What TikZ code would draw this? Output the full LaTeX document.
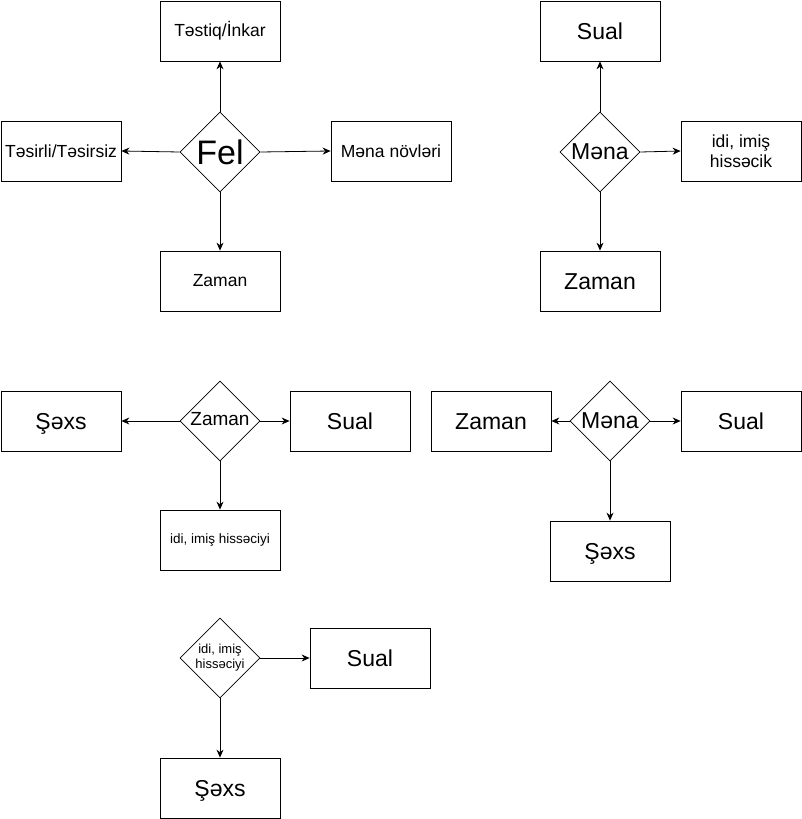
\documentclass[tikz,border=0pt]{standalone}
\usepackage{fontspec}
\setmainfont{Liberation Sans}
\usepackage{tikz}
\usetikzlibrary{shapes.geometric, arrows.meta, positioning}

\newcommand{\fsz}[1]{\fontsize{#1}{1.15\dimexpr#1\relax}\selectfont}

\begin{document}
\begin{tikzpicture}[x=1pt,y=-1pt,line width=0.8pt,
  box/.style={draw, minimum width=120pt, minimum height=60pt, inner sep=0pt, align=center},
  cond/.style={draw, diamond, minimum width=80pt, minimum height=80pt, inner sep=0pt, line width=0.6pt},
  conn/.style={-{Stealth[length=8pt,width=7pt]}},
  big/.style={font=\fsz{23pt}, text height=17pt, text depth=0pt},
  mid/.style={font=\fsz{17.5pt}},
  small/.style={font=\fsz{13.5pt}}]
\useasboundingbox (0,0) rectangle (802,819);

% Fel
\node[cond, label={[font=\fsz{34pt}]center:Fel}] (fel) at (220,152) {};
\node[box, mid] (tesdiq) at (220,31) {Təstiq/İnkar};
\node[box, mid] (tesirli) at (61,151) {Təsirli/Təsirsiz};
\node[box, mid] (novler) at (391,151) {Məna növləri};
\node[box, mid] (zaman1) at (220,281) {Zaman};
\draw[conn] (fel.north) -- (tesdiq.south);
\draw[conn] (fel.west) -- (tesirli.east);
\draw[conn] (fel.east) -- (novler.west);
\draw[conn] (fel.south) -- (zaman1.north);

% Mena (1)
\node[cond, label={[font=\fsz{23pt}]center:Məna}] (mena1) at (600,152) {};
\node[box, big] (sual1) at (600,31) {Sual};
\node[box, mid] (hissecik) at (741,151) {idi, imiş\\hissəcik};
\node[box, big] (zaman2) at (600,281) {Zaman};
\draw[conn] (mena1.north) -- (sual1.south);
\draw[conn] (mena1.east) -- (hissecik.west);
\draw[conn] (mena1.south) -- (zaman2.north);

% Zaman
\node[cond, label={[font=\fsz{19pt}, yshift=2pt]center:Zaman}] (zaman3) at (220,421) {};
\node[box, big] (sexs1) at (61,421) {Şəxs};
\node[box, big] (sual2) at (350,421) {Sual};
\node[box, small] (hisseciyi1) at (220,540) {idi, imiş hissəciyi};
\draw[conn] (zaman3.west) -- (sexs1.east);
\draw[conn] (zaman3.east) -- (sual2.west);
\draw[conn] (zaman3.south) -- (hisseciyi1.north);

% Mena (2)
\node[cond, label={[font=\fsz{23pt}]center:Məna}] (mena2) at (610,421) {};
\node[box, big] (zaman4) at (491,421) {Zaman};
\node[box, big] (sual3) at (741,421) {Sual};
\node[box, big] (sexs2) at (610,551) {Şəxs};
\draw[conn] (mena2.west) -- (zaman4.east);
\draw[conn] (mena2.east) -- (sual3.west);
\draw[conn] (mena2.south) -- (sexs2.north);

% idi, imis hisseciyi
\node[cond, label={[font=\fsz{13pt}, align=center]center:idi, imiş\\hissəciyi}] (hisseciyi2) at (220,658) {};
\node[box, big] (sual4) at (370,658) {Sual};
\node[box, big] (sexs3) at (220,788) {Şəxs};
\draw[conn] (hisseciyi2.east) -- (sual4.west);
\draw[conn] (hisseciyi2.south) -- (sexs3.north);
\end{tikzpicture}
\end{document}
